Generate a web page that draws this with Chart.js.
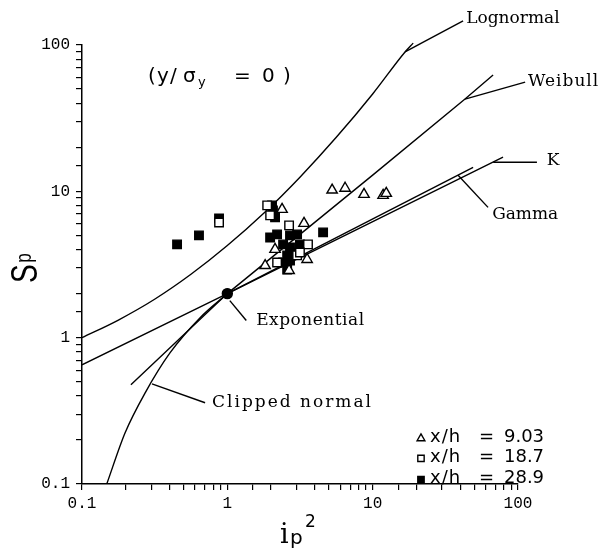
<!DOCTYPE html>
<html>
<head>
<meta charset="utf-8">
<script src="https://cdn.jsdelivr.net/npm/chart.js@4.4.1/dist/chart.umd.min.js"></script>
<style>
  html, body { margin: 0; padding: 0; background: #fff; }
  #wrap { width: 604px; height: 548px; }
</style>
</head>
<body>
<div id="wrap"><canvas id="chart" width="604" height="548"></canvas></div>
<script>
// model curves, pairs of [i_p^2, S_p]
const lognormal = [[0.1, 1.0], [0.178, 1.32], [0.316, 1.83], [0.562, 2.71], [1, 4.26], [1.78, 7.08],
  [3.16, 12.5], [5.62, 23.4], [10, 46.3], [16.7, 89.6], [19.0, 103]];
const weibull = [[0.217, 0.477], [1, 2], [10, 12.9], [43.2, 42.7], [67.4, 62.3]];
const kModel = [[0.1, 0.653], [1, 2], [78.9, 17.1]];
const gammaModel = [[1, 2], [49.1, 14.6]];
const clippedNormal = [[0.148, 0.1], [0.198, 0.224], [0.272, 0.42], [0.404, 0.79], [0.65, 1.37], [1, 2]];
const exponential = [[1, 2]];

// measurements
const xh903 = [[3.37, 6.04], [2.13, 4.01], [3.54, 3.42], [1.82, 3.11], [2.66, 2.88], [2.38, 7.53],
  [5.26, 10.2], [6.46, 10.5], [8.72, 9.53], [11.8, 9.39], [12.4, 9.69]];
const xh187 = [[1.88, 8.02], [1.97, 6.85], [0.877, 6.13], [2.66, 5.85], [3.59, 4.34], [2.20, 3.26],
  [3.02, 3.65], [3.16, 3.82]];
const xh289 = [[0.451, 4.34], [0.638, 5.00], [0.877, 6.53], [2.03, 8.02], [2.06, 7.41], [2.13, 6.64],
  [4.56, 5.24], [1.97, 4.84], [2.20, 5.08], [2.70, 5.00], [3.02, 5.08], [2.42, 4.34], [2.70, 4.13],
  [3.16, 4.34], [2.58, 3.65], [2.42, 3.26], [2.70, 3.37], [2.58, 2.92], [2.83, 3.82]];

// label leader lines
const leadLognormal = [[16.7, 89.6], [41.9, 146]];
const leadWeibull = [[43.2, 42.7], [112, 55.8]];
const leadK = [[67.5, 15.8], [135, 15.8]];
const leadGamma = [[38.7, 12.9], [62.2, 7.77]];
const leadExponential = [[1.04, 1.79], [1.35, 1.31]];
const leadClipped = [[0.303, 0.484], [0.703, 0.359]];

const seriesNames = ['x/h  =  9.03', 'x/h  =  18.7', 'x/h  =  28.9'];

// where the curve names sit (data coords, left/middle of text)
const curveNotes = [
  { text: 'Lognormal', x: 44.0, y: 151, spacing: 0 },
  { text: 'Weibull', x: 117, y: 55.8, spacing: 1 },
  { text: 'K', x: 158, y: 16.3, spacing: 0 },
  { text: 'Gamma', x: 66.4, y: 6.96, spacing: 0 },
  { text: 'Exponential', x: 1.58, y: 1.31, spacing: 0.5 },
  { text: 'Clipped normal', x: 0.785, y: 0.359, spacing: 2 }
];

const toPts = arr => arr.map(([x, y]) => ({ x, y }));

const lineSet = (data, extra) => Object.assign({
  data: toPts(data),
  showLine: true,
  borderColor: '#000',
  borderWidth: 1.4,
  pointRadius: 0,
  fill: false,
  order: 5
}, extra);

const markerSet = (data, style, fillColor, order) => ({
  data: toPts(data),
  showLine: false,
  pointStyle: style,
  pointRadius: 6,
  borderColor: '#000',
  borderWidth: 1.4,
  backgroundColor: fillColor,
  order: order
});

const isDecade = v => Math.abs(Math.log10(v) - Math.round(Math.log10(v))) < 1e-6;

const legendMarks = [
  { style: 'triangle', fill: '#fff' },
  { style: 'rect', fill: '#fff' },
  { style: 'rect', fill: '#000' }
];

const notesPlugin = {
  id: 'notes',
  afterDraw(chart) {
    const { ctx, chartArea } = chart;
    const xs = chart.scales.x;
    const ys = chart.scales.y;
    ctx.save();
    ctx.fillStyle = '#000';
    ctx.textBaseline = 'middle';
    ctx.textAlign = 'left';

    ctx.font = '17px "DejaVu Serif"';
    curveNotes.forEach(n => {
      ctx.letterSpacing = n.spacing + 'px';
      ctx.fillText(n.text, xs.getPixelForValue(n.x), ys.getPixelForValue(n.y));
    });
    ctx.letterSpacing = '0px';

    // (y/sigma_y = 0)
    const tx = xs.getPixelForValue(0.285);
    const ty = ys.getPixelForValue(60.4);
    ctx.font = '20px "DejaVu Sans"';
    [['(', 0], ['y', 9], ['/', 22], ['σ', 35]].forEach(([c, dx]) => ctx.fillText(c, tx + dx, ty));
    ctx.font = '13px "DejaVu Sans"';
    ctx.fillText('y', tx + 50, ty + 6);
    ctx.font = '20px "DejaVu Sans"';
    [['=', 86], ['0', 114], [')', 135]].forEach(([c, dx]) => ctx.fillText(c, tx + dx, ty));

    // legend
    const lx = xs.getPixelForValue(21.5);
    const tx2 = xs.getPixelForValue(24.8);
    const rows = [0.208, 0.152, 0.109];
    seriesNames.forEach((name, i) => {
      const py = ys.getPixelForValue(rows[i]);
      ctx.lineWidth = 1.4;
      ctx.strokeStyle = '#000';
      ctx.fillStyle = legendMarks[i].fill;
      Chart.helpers.drawPoint(ctx, { pointStyle: legendMarks[i].style, radius: 4.5, borderWidth: 1.4 }, lx, py + 1);
      ctx.fillStyle = '#000';
      ctx.font = '18px "DejaVu Sans"';
      const parts = name.split(/\s+/);
      ctx.letterSpacing = '1px';
      ctx.fillText(parts[0], tx2, py);
      ctx.letterSpacing = '0px';
      ctx.fillText(parts[1], tx2 + 49, py);
      ctx.fillText(parts[2], tx2 + 74, py);
    });

    // axis titles
    ctx.save();
    ctx.translate(37, 283);
    ctx.rotate(-Math.PI / 2);
    ctx.scale(0.78, 1);
    ctx.textBaseline = 'alphabetic';
    ctx.font = '36px "Liberation Sans"';
    ctx.fillText('S', 0, 0);
    const sw = ctx.measureText('S').width;
    ctx.font = '22px "Liberation Sans"';
    ctx.fillText('p', sw + 2, -6);
    ctx.restore();

    const cx = (chartArea.left + chartArea.right) / 2;
    ctx.textBaseline = 'alphabetic';
    ctx.font = '27px "DejaVu Serif"';
    ctx.fillText('i', cx - 20, 543);
    ctx.font = '20px "DejaVu Sans"';
    ctx.fillText('p', cx - 10, 544);
    ctx.font = '17px "DejaVu Sans"';
    ctx.fillText('2', cx + 5, 527);
    ctx.restore();
  }
};

const axisCommon = {
  type: 'logarithmic',
  min: 0.1,
  max: 100,
  border: { display: true, color: '#000', width: 1.5 },
  grid: { drawOnChartArea: false, drawTicks: true, tickLength: 6, color: '#000', lineWidth: 1.2 },
  ticks: {
    autoSkip: false,
    maxRotation: 0,
    color: '#000',
    font: { family: 'Liberation Mono', size: 16 },
    callback: v => (isDecade(v) ? String(v) : '')
  }
};

new Chart(document.getElementById('chart').getContext('2d'), {
  type: 'scatter',
  data: {
    datasets: [
      lineSet(exponential, { showLine: false, pointRadius: 5, pointStyle: 'circle', backgroundColor: '#000', order: 0 }),
      markerSet(xh903, 'triangle', '#fff', 1),
      markerSet(xh187, 'rect', '#fff', 2),
      markerSet(xh289, 'rect', '#000', 3),
      lineSet(lognormal, { cubicInterpolationMode: 'monotone', clip: false }),
      lineSet(weibull, { clip: false }),
      lineSet(kModel),
      lineSet(gammaModel),
      lineSet(clippedNormal, { cubicInterpolationMode: 'monotone' }),
      lineSet(leadLognormal, { clip: false }),
      lineSet(leadWeibull, { clip: false }),
      lineSet(leadK, { clip: false }),
      lineSet(leadGamma, { clip: false }),
      lineSet(leadExponential, { clip: false }),
      lineSet(leadClipped, { clip: false })
    ]
  },
  options: {
    responsive: false,
    animation: false,
    layout: { padding: { top: 45, right: 86, left: 0, bottom: 0 } },
    plugins: { legend: { display: false }, tooltip: { enabled: false } },
    scales: {
      x: Object.assign({}, axisCommon, {
        position: 'bottom',
        ticks: Object.assign({}, axisCommon.ticks, { padding: 4 }),
        afterFit: s => { s.height = 64; }
      }),
      y: Object.assign({}, axisCommon, {
        position: 'left',
        ticks: Object.assign({}, axisCommon.ticks, { padding: 6 }),
        afterFit: s => { s.width = 82; }
      })
    }
  },
  plugins: [notesPlugin]
});
</script>
</body>
</html>
